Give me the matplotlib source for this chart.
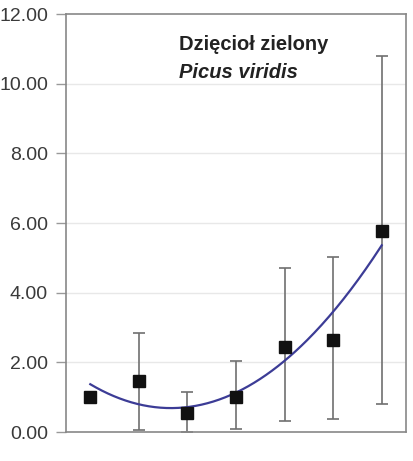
import numpy as np
import matplotlib
matplotlib.use("Agg")
import matplotlib.pyplot as plt

plt.rcParams['font.family'] = ['Liberation Sans', 'DejaVu Sans']

# Data
categories = [1, 2, 3, 4, 5, 6, 7]
means = [1.00, 1.45, 0.55, 1.00, 2.45, 2.65, 5.77]
upper = [1.00, 2.85, 1.16, 2.04, 4.71, 5.03, 10.78]
lower = [1.00, 0.05, 0.00, 0.08, 0.32, 0.37, 0.80]
yticks = [0, 2, 4, 6, 8, 10, 12]
title1 = "Dzięcioł zielony"
title2 = "Picus viridis"

fig = plt.figure(figsize=(4.14, 4.61), dpi=100)
ax = fig.add_axes([66/414, 1-432/461, (406-66)/414, (432-14)/461])

x = np.array(categories, dtype=float)
m = np.array(means)
err = np.vstack([m - np.array(lower), np.array(upper) - m])

for yv in yticks[1:-1]:
    ax.axhline(yv, color='#e8e8e8', lw=1.0, zorder=0)

ax.errorbar(x, m, yerr=err, fmt='none', ecolor='#707070', elinewidth=1.2,
            capsize=4.5, capthick=1.2, zorder=2)

coef = np.polyfit(x, m, 2)
xs = np.linspace(x[0], x[-1], 200)
ax.plot(xs, np.polyval(coef, xs), color='#3c3c96', lw=1.6, zorder=3)

ax.plot(x, m, 's', color='#111111', markersize=8, zorder=4)

ax.set_xlim(0.5, 7.5)
ax.set_ylim(0, 12)
ax.set_yticks(yticks)
ax.set_yticklabels([f"{v:.2f}" for v in yticks], fontsize=14, color='#3a3a3a')
ax.set_xticks([])
ax.tick_params(axis='y', direction='out', length=7, width=1, color='#999999', pad=6)
for s in ax.spines.values():
    s.set_color('#888888')
    s.set_linewidth(1.2)

fig.text(179/414, 1-50/461, title1, fontsize=14.5, fontweight='bold', color='#222222')
fig.text(179/414, 1-78/461, title2, fontsize=14.5, fontweight='bold', fontstyle='italic', color='#222222')

fig.savefig("out.png", dpi=100)
